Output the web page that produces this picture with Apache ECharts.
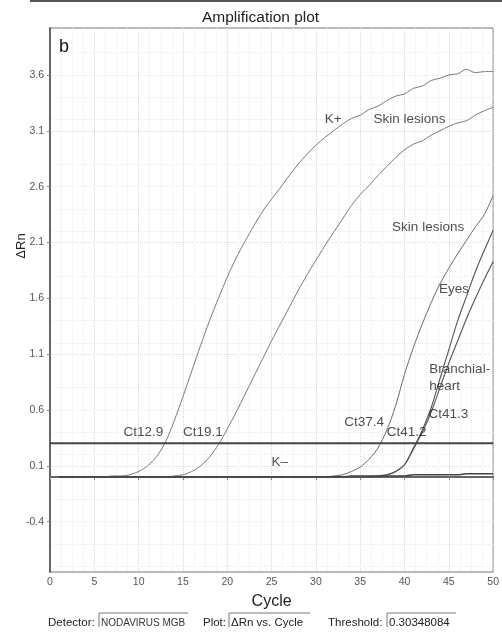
<!DOCTYPE html>
<html>
<head>
<meta charset="utf-8">
<script src="https://cdn.jsdelivr.net/npm/echarts@6/dist/echarts.min.js"></script>
<style>html,body{margin:0;padding:0;background:#fff;}#c{width:502px;height:632px;}</style>
</head>
<body>
<div id="c"></div>
<script>
const cycles = Array.from({length: 50}, (_, i) => i + 1);
const yTickLabels = [-0.4, 0.1, 0.6, 1.1, 1.6, 2.1, 2.6, 3.1, 3.6];
const xTickLabels = [0, 5, 10, 15, 20, 25, 30, 35, 40, 45, 50];
const threshold = 0.30348084;

const kPlus = [0.00,0.00,0.00,0.00,0.00,0.00,0.01,0.01,0.02,0.05,
  0.10,0.18,0.31,0.50,0.72,0.95,1.18,1.40,1.60,1.79,
  1.96,2.11,2.25,2.38,2.49,2.59,2.70,2.80,2.89,2.97,
  3.04,3.10,3.16,3.21,3.24,3.29,3.32,3.37,3.41,3.43,
  3.48,3.50,3.55,3.57,3.60,3.61,3.65,3.62,3.63,3.63];
const skin1 = [0.00,0.00,0.00,0.00,0.00,0.00,0.00,0.00,0.00,0.00,
  0.00,0.00,0.00,0.01,0.02,0.05,0.10,0.18,0.29,0.43,
  0.58,0.74,0.90,1.06,1.22,1.37,1.52,1.67,1.81,1.94,
  2.07,2.19,2.31,2.43,2.53,2.61,2.70,2.78,2.86,2.93,
  2.98,3.01,3.06,3.10,3.14,3.17,3.19,3.24,3.28,3.31];
const skin2 = [0.00,0.00,0.00,0.00,0.00,0.00,0.00,0.00,0.00,0.00,
  0.00,0.00,0.00,0.00,0.00,0.00,0.00,0.00,0.00,0.00,
  0.00,0.00,0.00,0.00,0.00,0.00,0.00,0.00,0.00,0.00,
  0.00,0.01,0.02,0.05,0.09,0.16,0.26,0.42,0.64,0.92,
  1.16,1.37,1.56,1.73,1.87,2.00,2.12,2.24,2.35,2.52];
const eyes = [0.00,0.00,0.00,0.00,0.00,0.00,0.00,0.00,0.00,0.00,
  0.00,0.00,0.00,0.00,0.00,0.00,0.00,0.00,0.00,0.00,
  0.00,0.00,0.00,0.00,0.00,0.00,0.00,0.00,0.00,0.00,
  0.00,0.00,0.00,0.00,0.00,0.00,0.01,0.02,0.05,0.11,
  0.26,0.42,0.62,0.88,1.14,1.40,1.62,1.84,2.03,2.21];
const branchial = [0.00,0.00,0.00,0.00,0.00,0.00,0.00,0.00,0.00,0.00,
  0.00,0.00,0.00,0.00,0.00,0.00,0.00,0.00,0.00,0.00,
  0.00,0.00,0.00,0.00,0.00,0.00,0.00,0.00,0.00,0.00,
  0.00,0.00,0.00,0.00,0.00,0.00,0.01,0.02,0.05,0.11,
  0.25,0.40,0.58,0.80,1.02,1.22,1.42,1.60,1.77,1.93];
const kMinus = [0.00,0.00,0.00,0.00,0.00,0.00,0.00,0.00,0.00,0.00,
  0.00,0.00,0.00,0.00,0.00,0.00,0.00,0.00,0.00,0.00,
  0.00,0.00,0.00,0.00,0.00,0.00,0.00,0.00,0.00,0.00,
  0.00,0.00,0.00,0.01,0.01,0.01,0.01,0.01,0.01,0.01,
  0.02,0.02,0.02,0.02,0.02,0.02,0.03,0.03,0.03,0.03];

// annotation texts with their anchor in data coordinates (cycle, ΔRn)
const noteTexts = ['K+', 'Skin lesions', 'Skin lesions', 'Eyes', 'Branchial-\nheart', 'Ct41.3', 'Ct41.2', 'Ct37.4', 'Ct12.9', 'Ct19.1', 'K\u2013'];
const noteCycles = [31.0, 36.5, 38.6, 43.9, 42.8, 42.7, 38.0, 33.2, 8.3, 15.0, 25.0];
const noteValues = [3.20, 3.20, 2.24, 1.68, 0.89, 0.56, 0.40, 0.49, 0.40, 0.40, 0.13];

const FONT = '"Liberation Sans", Arial, sans-serif';
const chart = echarts.init(document.getElementById('c'), null, {renderer: 'canvas'});

function curve(name, vals, color, width, z) {
  return {
    name, type: 'line', data: cycles.map((c, i) => [c, vals[i]]),
    showSymbol: false, smooth: 0.3, z: z || 2,
    lineStyle: {color, width}, silent: true
  };
}

const option = {
  animation: false,
  backgroundColor: '#fff',
  title: {
    text: 'Amplification plot', left: 197, top: 5,
    textStyle: {fontFamily: FONT, fontSize: 15.5, fontWeight: 'normal', color: '#222'}
  },
  grid: {left: 50, right: 6, top: 28, bottom: 60, show: true, borderColor: '#777', borderWidth: 1},
  xAxis: {
    type: 'value', min: 0, max: 50, interval: 5,
    name: 'Cycle', nameLocation: 'middle', nameGap: 22,
    nameTextStyle: {fontFamily: FONT, fontSize: 16, color: '#222'},
    axisLine: {show: true, lineStyle: {color: '#666', width: 2}},
    axisTick: {show: true, length: 3, lineStyle: {color: '#888'}},
    axisLabel: {fontFamily: FONT, fontSize: 10.5, color: '#555', margin: 5,
      customValues: xTickLabels},
    splitLine: {show: true, lineStyle: {color: '#d8d8d8', type: 'dotted', width: 1}},
    minorTick: {show: false, splitNumber: 4},
    minorSplitLine: {show: true, lineStyle: {color: '#ececec', type: 'dotted', width: 1}}
  },
  yAxis: {
    type: 'value', min: -0.85, max: 4.02,
    axisLine: {show: true, lineStyle: {color: '#666', width: 2}},
    axisTick: {show: true, length: 3, lineStyle: {color: '#888'}, customValues: yTickLabels},
    axisLabel: {fontFamily: FONT, fontSize: 10.5, color: '#555', margin: 6,
      customValues: yTickLabels, formatter: v => v.toFixed(1)},
    splitLine: {show: true, lineStyle: {color: '#dcdcdc', type: 'dotted', width: 1}},
    minorTick: {show: false, splitNumber: 5},
    minorSplitLine: {show: true, lineStyle: {color: '#ececec', type: 'dotted', width: 1}}
  },
  series: [
    curve('K+', kPlus, '#7a7a7a', 1),
    curve('Skin lesions 1', skin1, '#7a7a7a', 1),
    curve('Skin lesions 2', skin2, '#6a6a6a', 1),
    curve('Eyes', eyes, '#555', 1.1),
    curve('Branchial-heart', branchial, '#555', 1.1),
    curve('K-', kMinus, '#444', 1.6, 3),
    {
      name: 'Threshold', type: 'line', silent: true, showSymbol: false, z: 4,
      data: [[0, threshold], [50, threshold]],
      lineStyle: {color: '#444', width: 2}
    },
    {
      name: 'notes', type: 'scatter', symbolSize: 0, silent: true, z: 5,
      data: noteTexts.map((t, i) => [noteCycles[i], noteValues[i], t]),
      label: {
        show: true, position: 'inside', align: 'left', verticalAlign: 'middle',
        formatter: p => p.data[2], fontFamily: FONT, fontSize: 13.5, color: '#222', lineHeight: 17
      }
    }
  ],
  graphic: [
    {type: 'line', shape: {x1: 30, y1: 1, x2: 502, y2: 1}, style: {stroke: '#555', lineWidth: 2}},
    {type: 'text', left: 59, top: 38, z: 10, style: {text: 'b', font: '18px ' + FONT, fill: '#111', backgroundColor: '#fff'}},
    {type: 'text', x: 21, y: 246, rotation: Math.PI / 2,
      style: {text: '\u0394Rn', font: '13px ' + FONT, fill: '#222', align: 'center', verticalAlign: 'middle'}},
    {type: 'text', left: 48, top: 617, style: {text: 'Detector:', font: '11.5px ' + FONT, fill: '#222'}},
    {type: 'polyline', shape: {points: [[99, 627], [99, 613], [188, 613]]}, style: {stroke: '#777', lineWidth: 1, fill: null}},
    {type: 'text', left: 101, top: 618, style: {text: 'NODAVIRUS MGB', font: '10px ' + FONT, fill: '#333'}},
    {type: 'text', left: 203, top: 617, style: {text: 'Plot:', font: '11.5px ' + FONT, fill: '#222'}},
    {type: 'polyline', shape: {points: [[229, 627], [229, 613], [310, 613]]}, style: {stroke: '#777', lineWidth: 1, fill: null}},
    {type: 'text', left: 231, top: 617, style: {text: '\u0394Rn vs. Cycle', font: '11.5px ' + FONT, fill: '#222'}},
    {type: 'text', left: 328, top: 617, style: {text: 'Threshold:', font: '11.5px ' + FONT, fill: '#222'}},
    {type: 'polyline', shape: {points: [[387, 627], [387, 613], [456, 613]]}, style: {stroke: '#777', lineWidth: 1, fill: null}},
    {type: 'text', left: 389, top: 617, style: {text: '0.30348084', font: '11.5px ' + FONT, fill: '#222'}}
  ]
};
chart.setOption(option);
</script>
</body>
</html>
